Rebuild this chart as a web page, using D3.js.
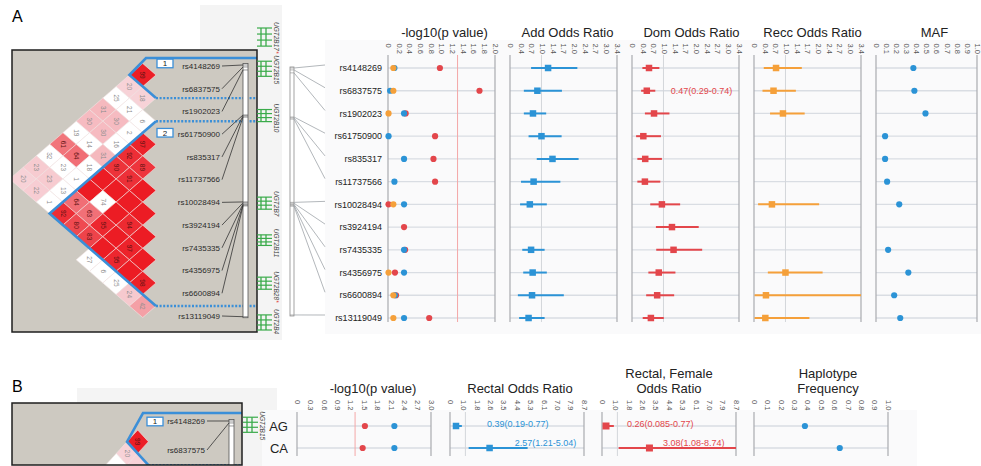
<!DOCTYPE html>
<html>
<head>
<meta charset="utf-8">
<script src="https://cdn.jsdelivr.net/npm/d3@7"></script>
<style>
  body { margin: 0; background: #fff; }
  svg text { font-family: "Liberation Sans", Arial, Helvetica, sans-serif; }
</style>
</head>
<body>
<div id="wrapper"></div>
<script>
// ---- data ----
const snps = ['rs4148269', 'rs6837575', 'rs1902023', 'rs61750900', 'rs835317', 'rs11737566',
  'rs10028494', 'rs3924194', 'rs7435335', 'rs4356975', 'rs6600894', 'rs13119049'];
// position along the UGT2B region (track units 0-100)
const snpPos = [12.25, 12.9, 13.9, 28.8, 29.1, 29.5, 57.6, 57.9, 58.3, 58.6, 58.9, 95.6];

const genes = ['UGT2B17', 'UGT2B15', 'UGT2B10', 'UGT2B7', 'UGT2B11', 'UGT2B28', 'UGT2B4'];
const geneStart = [0, 11, 27, 56, 68.5, 82.5, 95];
const geneEnd = [6, 16, 31, 60, 72, 86.5, 100];
const geneStar = [true, false, false, false, false, true, false];

// LD pairs: [snp i, snp j, D' x100, LOD >= 2]
const ldPairs = [
  [0, 1, 99, 1], [0, 2, 20, 1], [1, 2, 18, 1], [0, 3, 25, 0], [1, 3, 21, 0], [2, 3, 6, 0],
  [0, 4, 31, 1], [1, 4, 30, 1], [2, 4, 2, 0], [0, 5, 30, 1], [1, 5, 30, 1], [2, 5, 16, 0],
  [0, 6, 19, 0], [1, 6, 14, 0], [2, 6, 31, 1], [0, 7, 61, 1], [1, 7, 64, 1], [2, 7, 18, 0],
  [0, 8, 32, 0], [1, 8, 23, 0], [2, 8, 1, 0], [0, 9, 23, 1], [1, 9, 23, 1], [2, 9, 13, 0],
  [0, 10, 20, 1], [1, 10, 22, 1], [2, 10, 1, 0],
  [3, 4, 97, 1], [3, 5, 92, 1], [3, 6, 90, 1], [3, 7, 100, 1], [3, 8, 100, 1], [3, 9, 64, 1], [3, 10, 92, 1],
  [4, 5, 89, 1], [4, 6, 91, 1], [4, 7, 100, 1], [4, 8, 74, 0], [4, 9, 63, 1], [4, 10, 80, 1],
  [5, 6, 100, 1], [5, 7, 100, 1], [5, 8, 100, 1], [5, 9, 95, 1], [5, 10, 83, 1],
  [6, 7, 100, 1], [6, 8, 94, 1], [6, 9, 100, 1], [6, 10, 100, 1],
  [7, 8, 100, 1], [7, 9, 97, 1], [7, 10, 95, 1],
  [8, 9, 100, 1], [8, 10, 100, 1], [9, 10, 98, 1],
  [6, 11, 27, 0], [7, 11, 6, 0], [8, 11, 25, 0], [9, 11, 24, 1], [10, 11, 42, 1]
];
const haploBlocks = [[0, 1], [3, 10]];

// -log10(p) per model
const pAdd = [0.12, 0.04, 0.30, 0.01, 0.30, 0.12, 0.30, null, 0.30, 0.30, 0.13, 0.30];
const pDom = [0.97, 1.71, 0.33, 0.88, 0.85, 0.88, 0.01, 0.30, 0.32, 0.13, 0.15, 0.77];
const pRec = [0.10, 0.10, 0.01, null, null, null, 0.10, null, null, 0.01, 0.10, 0.10];

// odds ratios [estimate, lower, upper]
const addOR = [[1.21, 0.67, 2.14], [0.87, 0.44, 1.65], [0.73, 0.44, 1.15], [1.00, 0.59, 1.64],
  [1.35, 0.85, 2.18], [0.75, 0.35, 1.60], [0.63, 0.32, 1.17], null, [0.67, 0.39, 1.10],
  [0.72, 0.42, 1.17], [0.70, 0.25, 1.71], [0.59, 0.29, 1.10]];
const domOR = [[0.54, 0.33, 0.87], [0.47, 0.29, 0.74], [0.70, 0.41, 1.19], [0.36, 0.13, 0.92],
  [0.42, 0.17, 0.95], [0.41, 0.17, 0.90], [0.95, 0.58, 1.53], [1.27, 0.76, 2.12], [1.32, 0.77, 2.23],
  [0.85, 0.52, 1.38], [0.80, 0.45, 1.34], [0.60, 0.34, 1.01]];
const recOR = [[0.70, 0.31, 1.52], [0.62, 0.27, 1.33], [0.92, 0.51, 1.61], null, null, null,
  [0.57, 0.13, 2.07], null, null, [1.00, 0.44, 2.18], [0.38, 0.02, 3.6], [0.36, 0.02, 1.76]];
const maf = [0.37, 0.38, 0.49, 0.09, 0.09, 0.11, 0.23, null, 0.12, 0.32, 0.18, 0.24];

const pTicks = ['0', '0.2', '0.4', '0.6', '0.8', '1.0', '1.2', '1.4', '1.6', '1.8', '2.0'];
const orTicks = ['0', '0.4', '0.7', '1.0', '1.4', '1.7', '2.0', '2.4', '2.7', '3.0', '3.4'];
const mafTicks = ['0', '0.1', '0.2', '0.3', '0.4', '0.5', '0.6', '0.7', '0.8', '0.9', '1.0'];

// panel B: haplotypes of block 1
const haplos = ['AG', 'CA'];
const pRectal = [2.18, 2.18];
const pFemale = [1.52, 1.47];
const rectalOR = [[0.39, 0.19, 0.77], [2.57, 1.21, 5.04]];
const femaleOR = [[0.26, 0.085, 0.77], [3.08, 1.08, 8.74]];
const hapFreq = [0.38, 0.64];
const pTicksB = ['0', '0.3', '0.6', '0.9', '1.2', '1.5', '1.8', '2.1', '2.4', '2.7', '3.0'];
const orTicksB = ['0', '1.0', '1.8', '2.6', '3.5', '4.4', '5.3', '6.1', '7.0', '7.9', '8.7'];

// ---- colours ----
const BLUE = '#2b93d6', RED = '#e3464b', ORANGE = '#f5a03a', GREEN = '#3aab4a', OUTLINE = '#3b8fd8';
const ldColor = d3.scaleLinear().domain([20, 100]).range(['#f7d2d7', '#ec1c24'])
  .interpolate(d3.interpolateRgb).clamp(true);

// ---- canvas ----
const svg = d3.select('#wrapper').append('svg').attr('width', 981).attr('height', 466);
const defs = svg.append('defs');

// faint background panels
svg.append('rect').attr('x', 200).attr('y', 5).attr('width', 82).attr('height', 335).attr('fill', '#f4f4f4');
svg.append('rect').attr('x', 325).attr('y', 40).attr('width', 656).attr('height', 294).attr('fill', '#fafafb');
svg.append('rect').attr('x', 77).attr('y', 388).attr('width', 200).attr('height', 78).attr('fill', '#f4f4f4');
svg.append('rect').attr('x', 262).attr('y', 410).attr('width', 655).attr('height', 56).attr('fill', '#fafafb');

svg.append('text').attr('x', 12).attr('y', 22).style('font-size', '16px').text('A');
svg.append('text').attr('x', 12).attr('y', 392).style('font-size', '16px').text('B');

// ---- LD plot ----
function drawLD(L) {
  const [bx, by, bw, bh] = L.box;
  defs.append('clipPath').attr('id', L.id).append('rect')
    .attr('x', bx).attr('y', by).attr('width', bw).attr('height', bh);
  svg.append('rect').attr('x', bx).attr('y', by).attr('width', bw).attr('height', bh).attr('fill', '#cdc9c1');
  const g = svg.append('g').attr('clip-path', `url(#${L.id})`);
  const yk = (k) => L.y0 + k * 2 * L.hh;
  const cx = (d) => L.axis - (d[1] - d[0]) * L.hw;
  const cy = (d) => (yk(d[0]) + yk(d[1])) / 2;
  const cells = ldPairs.filter((d) => cy(d) - L.hh < by + bh);

  g.selectAll('path.cell').data(cells).join('path')
    .attr('class', 'cell')
    .attr('d', (d) => {
      const x = cx(d), y = cy(d);
      return `M${x - L.hw},${y}L${x},${y - L.hh}L${x + L.hw},${y}L${x},${y + L.hh}Z`;
    })
    .attr('fill', (d) => (d[3] ? ldColor(d[2]) : '#ffffff'))
    .attr('stroke', '#f4e4e4').attr('stroke-width', 0.6);

  g.selectAll('text.cell').data(cells.filter((d) => d[2] < 100 && cy(d) + 6 < by + bh)).join('text')
    .attr('class', 'cell')
    .attr('transform', (d) => `translate(${cx(d)},${cy(d)}) rotate(90)`)
    .attr('text-anchor', 'middle').attr('dy', '0.35em')
    .style('font-size', '6.5px')
    .attr('fill', (d) => (d[3] && d[2] >= 60 ? '#5e1212' : '#8e8e8e'))
    .text((d) => d[2]);

  // haplotype block outlines
  haploBlocks.forEach(([a, b], bi) => {
    const T = [L.axis, yk(a) - L.hh];
    const Lv = [L.axis - (b - a + 1) * L.hw, (yk(a) + yk(b)) / 2];
    const B = [L.axis, yk(b) + L.hh];
    const solid = bi === 0 ? [[L.right, L.topY], [L.cornerX, L.topY], Lv, B] : [T, Lv, B];
    g.append('path').attr('d', d3.line()(solid)).attr('fill', 'none')
      .attr('stroke', OUTLINE).attr('stroke-width', 2.6).attr('stroke-linejoin', 'miter');
    const dotted = bi === 0 ? [B] : [T, B];
    dotted.forEach((p) => {
      g.append('line').attr('x1', p[0]).attr('x2', L.right).attr('y1', p[1]).attr('y2', p[1])
        .attr('stroke', OUTLINE).attr('stroke-width', 2.4).attr('stroke-dasharray', '2,1.6');
    });
    const ly = yk(a) + L.boxDy;
    if (ly < by + bh) {
      g.append('rect').attr('x', L.boxX).attr('y', ly - 4.3).attr('width', 16).attr('height', 8.6)
        .attr('fill', '#fff').attr('stroke', OUTLINE).attr('stroke-width', 1.3);
      g.append('text').attr('x', L.boxX + 8).attr('y', ly).attr('dy', '0.35em')
        .attr('text-anchor', 'middle').style('font-size', '8px').attr('fill', '#222').text(bi + 1);
    }
  });

  // SNP position bar and labels
  const pos = d3.scaleLinear().domain([0, 100]).range(L.track);
  const barTop = pos(snpPos[0]) - 1.5;
  const barBot = Math.min(pos(snpPos[snpPos.length - 1]) + 1, by + bh + 10);
  g.append('rect').attr('x', L.barX).attr('y', barTop).attr('width', 5).attr('height', barBot - barTop)
    .attr('fill', '#fff').attr('stroke', '#555').attr('stroke-width', 0.8);
  g.selectAll('line.tick').data(snpPos).join('line').attr('class', 'tick')
    .attr('x1', L.barX).attr('x2', L.barX + 5).attr('y1', (d) => pos(d)).attr('y2', (d) => pos(d))
    .attr('stroke', '#555').attr('stroke-width', 0.6);
  const lab = snps.slice(0, L.snpCount);
  g.selectAll('line.lead').data(lab).join('line').attr('class', 'lead')
    .attr('x1', L.labelX + 2).attr('y1', (d, i) => L.labelY(i))
    .attr('x2', L.barX).attr('y2', (d, i) => pos(snpPos[i]))
    .attr('stroke', '#333').attr('stroke-width', 0.8);
  g.selectAll('text.snp').data(lab).join('text').attr('class', 'snp')
    .attr('x', L.labelX).attr('y', (d, i) => L.labelY(i)).attr('dy', '0.35em')
    .attr('text-anchor', 'end').style('font-size', '8px').attr('fill', '#2a2a2a').text((d) => d);

  svg.append('rect').attr('x', bx).attr('y', by).attr('width', bw).attr('height', bh)
    .attr('fill', 'none').attr('stroke', '#1e1e1e').attr('stroke-width', 1.5);

  // genes
  L.genes.forEach((gi) => {
    const y0 = pos(geneStart[gi]), y1 = pos(geneEnd[gi]);
    const gg = svg.append('g');
    [4, 9].forEach((dx) => gg.append('line').attr('x1', L.geneX + dx).attr('x2', L.geneX + dx)
      .attr('y1', y0).attr('y2', y1).attr('stroke', GREEN).attr('stroke-width', 1.3));
    d3.range(4).forEach((k) => {
      const y = y0 + ((y1 - y0) * k) / 3;
      gg.append('line').attr('x1', L.geneX).attr('x2', L.geneX + 15).attr('y1', y).attr('y2', y)
        .attr('stroke', GREEN).attr('stroke-width', 1.2);
    });
    const t = gg.append('text').attr('transform', `translate(${L.geneX + 19},${y0 - 6}) rotate(90)`)
      .attr('dy', '0.35em').style('font-size', '6.5px').style('font-style', 'italic').attr('fill', '#444')
      .text(genes[gi]);
    if (geneStar[gi]) t.append('tspan').attr('fill', '#e03030').text('*');
  });
}

const rowY = d3.scalePoint().domain(snps).range([68, 318]);

drawLD({
  id: 'clipA', box: [12, 50, 245, 282], axis: 156, hw: 13.3, hh: 11.55, y0: 63.45,
  topY: 58, cornerX: 146, right: 257, boxX: 157, boxDy: 0,
  track: [28, 330], barX: 243, labelX: 220, labelY: (i) => rowY(snps[i]) - 2,
  snpCount: snps.length, geneX: 257, genes: d3.range(genes.length)
});
drawLD({
  id: 'clipB', box: [12, 403, 230, 62], axis: 148.4, hw: 10.7, hh: 11.7, y0: 430,
  topY: 413, cornerX: 143, right: 242, boxX: 147, boxDy: -8.5,
  track: [384, 686], barX: 229, labelX: 205, labelY: (i) => 421 + i * 29,
  snpCount: 2, geneX: 243, genes: [1]
});

// second position bar linking to the association rows
const pos2 = d3.scaleLinear().domain([0, 100]).range([31.7, 328]);
svg.append('rect').attr('x', 290).attr('y', pos2(snpPos[0]) - 1).attr('width', 4)
  .attr('height', pos2(snpPos[11]) - pos2(snpPos[0]) + 2)
  .attr('fill', '#fff').attr('stroke', '#8c8c8c').attr('stroke-width', 0.8);
svg.selectAll('line.tick2').data(snpPos).join('line').attr('class', 'tick2')
  .attr('x1', 290).attr('x2', 294).attr('y1', (d) => pos2(d)).attr('y2', (d) => pos2(d))
  .attr('stroke', '#8c8c8c').attr('stroke-width', 0.6);
svg.selectAll('line.lead2').data(snps).join('line').attr('class', 'lead2')
  .attr('x1', 294).attr('y1', (d, i) => pos2(snpPos[i]))
  .attr('x2', 325).attr('y2', (d) => rowY(d) - 3)
  .attr('stroke', '#a0a4aa').attr('stroke-width', 0.8);
svg.selectAll('text.row').data(snps).join('text').attr('class', 'row')
  .attr('x', 382).attr('y', (d) => rowY(d)).attr('dy', '0.35em').attr('text-anchor', 'end')
  .style('font-size', '9px').attr('fill', '#222').text((d) => d);

// ---- association panels ----
function drawPanel(cfg, rows, layout) {
  const x = d3.scaleLinear().domain([0, cfg.max]).range([cfg.x0, cfg.x1]).clamp(true);
  const g = svg.append('g');
  g.selectAll('line.grid').data(rows).join('line').attr('class', 'grid')
    .attr('x1', cfg.x0).attr('x2', cfg.x1).attr('y1', (d) => d).attr('y2', (d) => d)
    .attr('stroke', '#d9dde3').attr('stroke-width', 1.3);
  if (cfg.ref != null) {
    g.append('line').attr('x1', x(cfg.ref)).attr('x2', x(cfg.ref))
      .attr('y1', layout.axisTop).attr('y2', layout.axisBot)
      .attr('stroke', cfg.refColor).attr('stroke-width', 1);
  }
  [0, cfg.max].forEach((v) => g.append('line').attr('x1', x(v)).attr('x2', x(v))
    .attr('y1', layout.axisTop).attr('y2', layout.axisBot).attr('stroke', '#a9abb0').attr('stroke-width', 1.2));

  const tickVals = cfg.ticks.map((t, i) => (i * cfg.max) / (cfg.ticks.length - 1));
  const ax = g.append('g').attr('transform', `translate(0,${layout.tickY})`)
    .call(d3.axisTop(x).tickValues(tickVals).tickFormat((d, i) => cfg.ticks[i]).tickSize(0));
  ax.attr('font-family', null).attr('font-size', null);
  ax.select('.domain').remove();
  ax.selectAll('text').attr('transform', 'rotate(90)').attr('x', 0).attr('y', 0).attr('dy', '0.35em')
    .attr('text-anchor', 'start').style('font-size', '7.5px').attr('fill', '#555');

  const cxm = (cfg.x0 + cfg.x1) / 2 + cfg.dx;
  cfg.title.forEach((line, i) => {
    g.append('text').attr('x', cxm)
      .attr('y', layout.titleY - (cfg.title.length - 1 - i) * 15)
      .attr('text-anchor', 'middle').style('font-size', '13px').attr('fill', '#222').text(line);
  });
  return { x, g };
}

function dots(panel, values, rows, color) {
  panel.g.selectAll(null).data(values.map((v, i) => [v, rows[i]]).filter((d) => d[0] != null))
    .join('circle').attr('cx', (d) => panel.x(d[0])).attr('cy', (d) => d[1]).attr('r', 3.1).attr('fill', color);
}
function forest(panel, values, rows, color, size) {
  const data = values.map((v, i) => [v, rows[i]]).filter((d) => d[0] != null);
  panel.g.selectAll(null).data(data).join('line')
    .attr('x1', (d) => panel.x(d[0][1])).attr('x2', (d) => panel.x(d[0][2]))
    .attr('y1', (d) => d[1]).attr('y2', (d) => d[1]).attr('stroke', color).attr('stroke-width', 2);
  panel.g.selectAll(null).data(data).join('rect')
    .attr('x', (d) => panel.x(d[0][0]) - size / 2).attr('y', (d) => d[1] - size / 2)
    .attr('width', size).attr('height', size).attr('fill', color);
}
function ciLabel(panel, est, y, at, color) {
  panel.g.append('text').attr('x', panel.x(at)).attr('y', y).style('font-size', '9px').attr('fill', color)
    .text(`${est[0]}(${est[1]}-${est[2]})`);
}

// panel A
const rowsA = snps.map((s) => rowY(s));
const layoutA = { axisTop: 55, axisBot: 322, tickY: 43.5, titleY: 36.5 };
const pPanel = drawPanel({ x0: 388, x1: 495, max: 2.0, ticks: pTicks, title: ['-log10(p value)'], dx: 3, ref: 1.3, refColor: '#f4a7a7' }, rowsA, layoutA);
const addPanel = drawPanel({ x0: 510, x1: 617, max: 3.4, ticks: orTicks, title: ['Add Odds Ratio'], dx: 4, ref: 1, refColor: '#d3d6da' }, rowsA, layoutA);
const domPanel = drawPanel({ x0: 632, x1: 739, max: 3.4, ticks: orTicks, title: ['Dom Odds Ratio'], dx: 6, ref: 1, refColor: '#d3d6da' }, rowsA, layoutA);
const recPanel = drawPanel({ x0: 754, x1: 861, max: 3.4, ticks: orTicks, title: ['Recc Odds Ratio'], dx: 5, ref: 1, refColor: '#d3d6da' }, rowsA, layoutA);
const mafPanel = drawPanel({ x0: 876, x1: 977, max: 1.0, ticks: mafTicks, title: ['MAF'], dx: 8 }, rowsA, layoutA);

dots(pPanel, pDom, rowsA, RED);
dots(pPanel, pAdd, rowsA, BLUE);
dots(pPanel, pRec, rowsA, ORANGE);
forest(addPanel, addOR, rowsA, BLUE, 6.5);
forest(domPanel, domOR, rowsA, RED, 6.5);
forest(recPanel, recOR, rowsA, ORANGE, 6.5);
dots(mafPanel, maf, rowsA, BLUE);
ciLabel(domPanel, domOR[1], rowsA[1] + 3, 1.23, RED);

// panel B
const rowsB = [426, 448];
const layoutB = { axisTop: 412, axisBot: 456, tickY: 400, titleY: 393 };
svg.selectAll('text.hap').data(haplos).join('text').attr('class', 'hap')
  .attr('x', 288).attr('y', (d, i) => rowsB[i]).attr('dy', '0.35em').attr('text-anchor', 'end')
  .style('font-size', '13px').attr('fill', '#222').text((d) => d);
const pB = drawPanel({ x0: 297, x1: 431, max: 3.0, ticks: pTicksB, title: ['-log10(p value)'], dx: 9, ref: 1.3, refColor: '#f4a7a7' }, rowsB, layoutB);
const rectB = drawPanel({ x0: 450, x1: 584, max: 8.7, ticks: orTicksB, title: ['Rectal Odds Ratio'], dx: 3, ref: 1, refColor: '#d3d6da' }, rowsB, layoutB);
const femB = drawPanel({ x0: 602, x1: 736, max: 8.7, ticks: orTicksB, title: ['Rectal, Female', 'Odds Ratio'], dx: 0, ref: 1, refColor: '#d3d6da' }, rowsB, layoutB);
const freqB = drawPanel({ x0: 754, x1: 888, max: 1.0, ticks: mafTicks, title: ['Haplotype', 'Frequency'], dx: 7 }, rowsB, layoutB);

dots(pB, pFemale, rowsB, RED);
dots(pB, pRectal, rowsB, BLUE);
forest(rectB, rectalOR, rowsB, BLUE, 6.5);
forest(femB, femaleOR, rowsB, RED, 7);
dots(freqB, hapFreq, rowsB, BLUE);
ciLabel(rectB, rectalOR[0], rowsB[0] + 0.5, 2.4, BLUE);
ciLabel(rectB, rectalOR[1], rowsB[1] - 2, 4.2, BLUE);
ciLabel(femB, femaleOR[0], rowsB[0] + 0.5, 1.62, RED);
ciLabel(femB, femaleOR[1], rowsB[1] - 2, 3.96, RED);
</script>
</body>
</html>
